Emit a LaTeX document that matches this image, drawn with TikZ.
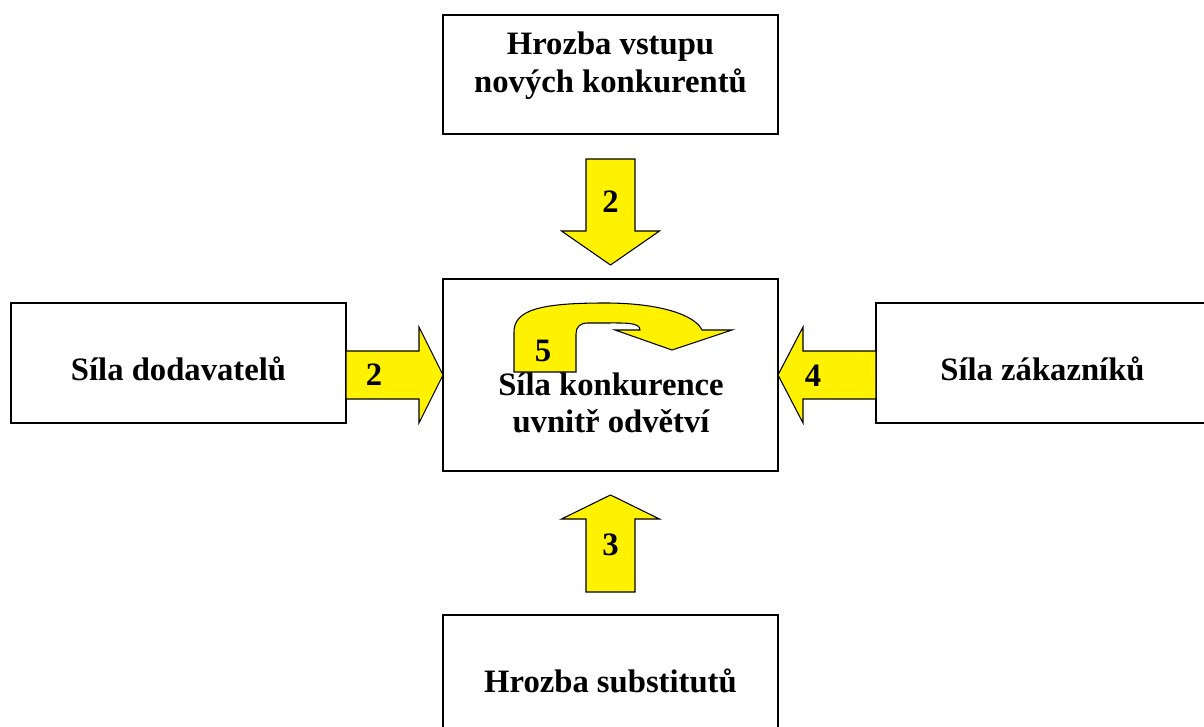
\documentclass[tikz,border=0pt]{standalone}
\usepackage{fontspec}
\setmainfont{Liberation Serif}
\usetikzlibrary{calc}
\begin{document}
\begin{tikzpicture}[x=0.75pt,y=-0.75pt,
  box/.style={draw=black,line width=1.5pt,inner sep=0pt,outer sep=0pt},
  lbl/.style={anchor=base,inner sep=0pt,font=\fontsize{24.5pt}{28.5pt}\selectfont\bfseries},
  yarrow/.style={fill=yellow,draw=black,line width=0.8pt,line join=miter}]
\useasboundingbox (0,0) rectangle (1204,727);
\clip (0,0) rectangle (1204,727);

% the five forces
\node[box,minimum width=251.25pt,minimum height=89.25pt] (T) at (610.5,74.5) {};
\node[box,minimum width=251.25pt,minimum height=144pt] (C) at (610.5,375) {};
\node[box,minimum width=251.6pt,minimum height=90pt] (L) at (178.25,363) {};
\node[box,minimum width=254.25pt,minimum height=90pt] (R) at (1045.5,363) {};
\node[box,minimum width=251.25pt,minimum height=93.75pt] (B) at (610.5,677.5) {};

% box captions
\node[lbl] (t1) at (610.5,55) {Hrozba vstupu};
\node[lbl] (t2) at (610.5,93) {nových konkurentů};
\node[lbl] (c1) at (611,396) {Síla konkurence};
\node[lbl] (c2) at (611,432) {uvnitř odvětví};
\node[lbl] (l1) at (178.5,381) {Síla dodavatelů};
\node[lbl] (r1) at (1042.5,381) {Síla zákazníků};
\node[lbl] (b1) at (610.5,692) {Hrozba substitutů};

% block arrows pointing at the central box
\draw[yarrow,shift={(T.south)}]
  (-24.5,25) -- (24.5,25) -- (24.5,97) -- (49,97) -- (0,131) -- (-49,97) -- (-24.5,97) -- cycle;
\draw[yarrow,shift={(C.west)}]
  (-97,-24) -- (-24,-24) -- (-24,-48) -- (0,0) -- (-24,48) -- (-24,24) -- (-97,24) -- cycle;
\draw[yarrow,shift={(C.east)}]
  (0,0) -- (25,-48) -- (25,-24) -- (98,-24) -- (98,24) -- (25,24) -- (25,48) -- cycle;
\draw[yarrow,shift={(B.north)}]
  (-24.5,-23) -- (-24.5,-96) -- (-49,-96) -- (0,-120) -- (49,-96) -- (24.5,-96) -- (24.5,-23) -- cycle;

% rivalry: U-turn arrow inside the central box
\draw[yarrow,shift={(C.north west)}]
  (71,93) -- (71,53) .. controls (71,31) and (97,24) .. (162,24)
  .. controls (217,24) and (252,36) .. (259,51)
  -- (289,51) -- (229,71) -- (172,51) -- (197,51)
  .. controls (197,43) and (182,44) .. (157,44) -- (145,44)
  .. controls (137,44) and (133,48) .. (133,55) -- (133,93) -- cycle;

% force strengths
\node[lbl] (n1) at (610.5,213) {2};
\node[lbl] (n2) at (374,386) {2};
\node[lbl] (n3) at (813,387) {4};
\node[lbl] (n4) at (610.5,555) {3};
\node[lbl] (n5) at (543,362) {5};
\end{tikzpicture}
\end{document}
